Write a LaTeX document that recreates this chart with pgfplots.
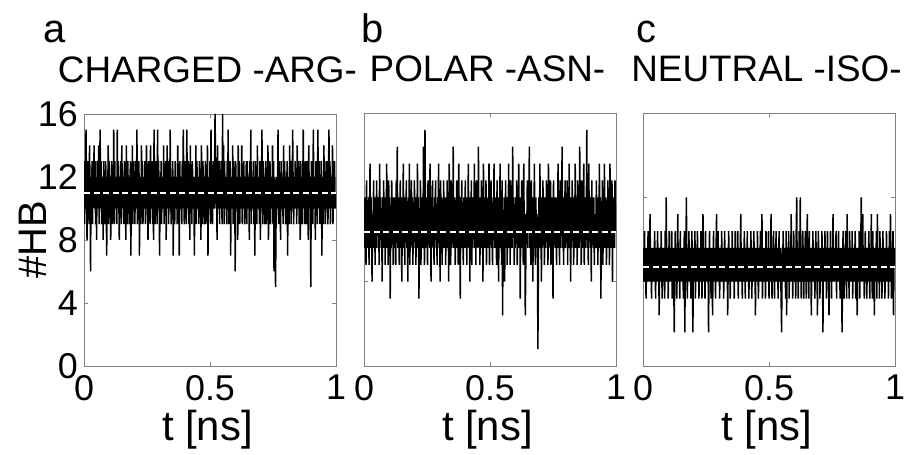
\documentclass[border=0pt]{standalone}
\usepackage{fontspec}
\setmainfont{Liberation Sans}
\usepackage{pgfplots}
\usepackage{pgfplotstable}
\pgfplotsset{compat=1.18}

% number of hydrogen bonds per frame (501 frames, 0..1 ns)
\pgfplotstableread[header=false,row sep=\\]{
13\\9\\12\\10\\15\\11\\8\\13\\10\\12\\9\\14\\11\\6\\12\\10\\13\\9\\12\\11\\
14\\10\\13\\9\\12\\8\\13\\11\\10\\14\\9\\12\\15\\10\\13\\9\\11\\12\\8\\13\\
10\\12\\9\\13\\11\\7\\12\\10\\14\\9\\13\\10\\12\\8\\11\\13\\9\\12\\10\\15\\
9\\13\\11\\10\\12\\9\\15\\10\\13\\11\\8\\12\\10\\13\\9\\14\\11\\10\\12\\9\\
13\\10\\12\\8\\14\\11\\9\\13\\10\\12\\9\\11\\13\\7\\12\\10\\14\\9\\13\\10\\
12\\9\\13\\11\\10\\15\\9\\12\\10\\13\\7\\12\\11\\9\\14\\10\\13\\9\\12\\11\\
10\\13\\9\\12\\14\\10\\11\\8\\13\\10\\12\\9\\14\\11\\10\\13\\9\\12\\8\\15\\
11\\9\\13\\10\\12\\9\\15\\10\\13\\11\\7\\12\\10\\13\\9\\12\\11\\10\\14\\9\\
12\\10\\13\\8\\11\\14\\10\\12\\9\\13\\10\\15\\11\\9\\12\\10\\13\\7\\12\\11\\
9\\13\\10\\12\\11\\9\\14\\10\\12\\7\\13\\11\\10\\12\\9\\13\\10\\15\\11\\9\\
13\\10\\12\\9\\15\\11\\10\\13\\9\\12\\8\\14\\10\\12\\9\\13\\11\\10\\12\\7\\
12\\10\\14\\9\\13\\11\\10\\12\\9\\13\\10\\12\\8\\14\\11\\9\\13\\10\\12\\9\\
11\\13\\9\\12\\10\\14\\7\\12\\11\\10\\13\\9\\15\\10\\12\\9\\13\\11\\10\\12\\
16\\13\\10\\12\\8\\14\\11\\10\\13\\9\\12\\10\\13\\11\\9\\16\\10\\14\\9\\13\\
10\\12\\11\\9\\13\\10\\15\\9\\12\\10\\13\\7\\12\\11\\10\\14\\9\\13\\10\\12\\
6\\13\\11\\10\\12\\8\\14\\10\\13\\9\\12\\11\\10\\14\\9\\12\\10\\13\\11\\9\\
12\\10\\13\\9\\13\\11\\10\\12\\8\\13\\10\\15\\9\\12\\11\\10\\13\\9\\12\\7\\
13\\10\\12\\9\\14\\11\\10\\12\\9\\13\\8\\12\\10\\15\\11\\9\\13\\10\\12\\9\\
11\\13\\9\\12\\10\\14\\8\\12\\10\\13\\9\\11\\12\\10\\14\\9\\13\\6\\12\\10\\
5\\9\\12\\10\\11\\15\\9\\13\\10\\12\\8\\13\\11\\10\\12\\9\\14\\10\\13\\11\\
9\\12\\10\\13\\7\\12\\11\\9\\14\\10\\12\\9\\13\\10\\15\\11\\9\\12\\10\\13\\
10\\12\\9\\14\\11\\10\\13\\9\\12\\8\\13\\10\\12\\9\\11\\15\\10\\12\\9\\13\\
11\\9\\13\\10\\12\\8\\14\\10\\12\\11\\5\\13\\10\\12\\9\\15\\11\\10\\12\\8\\
13\\10\\12\\9\\15\\11\\10\\13\\9\\12\\10\\13\\7\\12\\11\\9\\14\\10\\13\\9\\
12\\10\\13\\11\\9\\12\\15\\10\\13\\9\\11\\12\\10\\14\\9\\12\\10\\13\\11\\10\\
11\\
}\dataA

\pgfplotstableread[header=false,row sep=\\]{
9\\7\\10\\8\\6\\11\\7\\9\\8\\10\\6\\9\\12\\7\\10\\8\\5\\9\\7\\11\\
8\\10\\6\\9\\7\\11\\8\\10\\7\\9\\6\\12\\8\\10\\7\\9\\5\\10\\8\\11\\
7\\9\\6\\10\\8\\12\\7\\9\\6\\11\\8\\10\\4\\9\\7\\11\\8\\10\\6\\9\\
10\\7\\9\\6\\11\\8\\13\\7\\10\\8\\6\\9\\11\\7\\10\\5\\9\\8\\12\\7\\
9\\6\\10\\8\\11\\7\\9\\5\\10\\8\\12\\6\\9\\7\\11\\8\\10\\6\\9\\7\\
11\\8\\10\\6\\9\\7\\12\\8\\10\\4\\9\\7\\11\\6\\10\\8\\9\\7\\13\\8\\
6\\14\\8\\10\\7\\9\\6\\11\\8\\10\\7\\12\\9\\5\\10\\8\\11\\7\\9\\6\\
10\\8\\11\\7\\9\\6\\10\\8\\12\\7\\9\\5\\11\\8\\10\\6\\9\\7\\11\\8\\
7\\10\\6\\9\\8\\11\\7\\10\\5\\12\\8\\9\\6\\11\\7\\10\\8\\13\\7\\9\\
10\\6\\9\\8\\11\\7\\10\\6\\12\\8\\9\\4\\10\\7\\11\\8\\9\\6\\10\\7\\
8\\11\\7\\10\\6\\9\\8\\12\\7\\10\\5\\9\\8\\11\\6\\10\\7\\9\\8\\12\\
7\\9\\6\\11\\8\\10\\7\\13\\8\\9\\6\\10\\7\\11\\8\\9\\5\\12\\7\\10\\
9\\7\\11\\6\\10\\8\\9\\7\\12\\6\\10\\8\\11\\7\\9\\6\\10\\8\\12\\7\\
10\\8\\9\\6\\11\\7\\10\\5\\9\\8\\12\\7\\10\\6\\11\\3\\9\\7\\10\\5\\
8\\11\\7\\10\\6\\9\\8\\12\\7\\10\\6\\11\\8\\9\\7\\13\\8\\10\\6\\9\\
7\\10\\8\\11\\6\\9\\7\\12\\8\\10\\4\\9\\7\\11\\8\\10\\6\\12\\7\\9\\
3\\6\\9\\8\\11\\7\\10\\8\\13\\7\\9\\6\\11\\8\\10\\5\\9\\7\\12\\8\\
6\\10\\7\\9\\8\\1\\6\\10\\7\\12\\8\\9\\5\\10\\7\\11\\8\\9\\6\\10\\
9\\7\\11\\8\\10\\6\\12\\7\\9\\8\\11\\6\\10\\7\\9\\4\\11\\8\\10\\7\\
8\\10\\6\\9\\7\\12\\8\\10\\6\\11\\7\\9\\8\\13\\7\\10\\6\\9\\8\\11\\
7\\9\\8\\11\\6\\10\\7\\12\\8\\9\\5\\10\\7\\11\\8\\10\\6\\9\\7\\12\\
9\\7\\10\\6\\11\\8\\9\\7\\13\\8\\10\\6\\11\\7\\9\\8\\12\\6\\10\\7\\
10\\8\\14\\7\\9\\6\\12\\8\\10\\7\\9\\5\\11\\8\\10\\7\\10\\6\\9\\8\\
7\\11\\8\\10\\6\\9\\7\\12\\8\\10\\4\\9\\7\\11\\6\\10\\8\\12\\7\\9\\
10\\6\\9\\8\\11\\7\\10\\6\\12\\8\\9\\7\\11\\5\\10\\8\\9\\7\\11\\8\\
8\\
}\dataB

\pgfplotstableread[header=false,row sep=\\]{
7\\5\\6\\8\\5\\7\\4\\6\\7\\5\\8\\6\\5\\7\\9\\5\\6\\4\\7\\5\\
6\\7\\5\\8\\6\\4\\7\\5\\6\\8\\5\\7\\3\\6\\7\\5\\8\\6\\4\\7\\
5\\7\\6\\4\\8\\5\\10\\6\\5\\7\\4\\6\\8\\5\\7\\6\\5\\8\\4\\6\\
7\\5\\2\\6\\8\\5\\7\\4\\6\\9\\5\\7\\6\\4\\8\\5\\7\\6\\5\\7\\
4\\6\\8\\2\\7\\5\\10\\6\\4\\7\\5\\8\\6\\5\\7\\4\\6\\8\\5\\2\\
7\\5\\6\\8\\4\\7\\5\\6\\8\\5\\7\\4\\6\\7\\5\\8\\6\\4\\7\\9\\
5\\7\\6\\4\\8\\5\\7\\6\\5\\7\\2\\6\\8\\5\\7\\4\\6\\7\\3\\6\\
8\\5\\7\\6\\4\\7\\9\\5\\6\\8\\5\\7\\4\\6\\7\\5\\8\\6\\5\\7\\
4\\6\\8\\5\\7\\6\\5\\7\\3\\6\\8\\5\\7\\4\\6\\7\\5\\8\\6\\5\\
7\\4\\6\\8\\5\\7\\6\\5\\8\\4\\7\\6\\5\\7\\9\\5\\6\\4\\7\\6\\
5\\8\\6\\4\\7\\5\\6\\8\\5\\7\\4\\6\\7\\5\\8\\6\\4\\7\\5\\6\\
8\\5\\7\\3\\6\\7\\5\\8\\6\\4\\7\\5\\6\\8\\5\\7\\9\\4\\6\\7\\
5\\7\\6\\4\\8\\5\\7\\6\\5\\8\\4\\6\\7\\5\\9\\6\\4\\7\\5\\8\\
6\\4\\7\\5\\8\\6\\5\\7\\4\\6\\8\\5\\7\\6\\4\\2\\7\\5\\8\\6\\
5\\7\\6\\4\\8\\3\\7\\5\\6\\8\\4\\7\\5\\6\\9\\5\\7\\4\\6\\8\\
5\\7\\6\\4\\8\\10\\5\\7\\4\\6\\8\\5\\10\\6\\4\\7\\5\\8\\6\\4\\
7\\5\\8\\6\\4\\7\\9\\5\\6\\4\\8\\5\\7\\6\\3\\7\\5\\8\\6\\5\\
7\\4\\6\\8\\5\\7\\3\\6\\8\\5\\7\\4\\6\\7\\5\\8\\6\\2\\7\\5\\
6\\8\\5\\7\\4\\6\\8\\5\\6\\3\\7\\5\\8\\6\\4\\7\\5\\9\\6\\5\\
7\\5\\6\\8\\4\\7\\5\\6\\8\\5\\7\\4\\6\\7\\5\\2\\6\\8\\5\\4\\
7\\5\\8\\6\\4\\9\\5\\7\\6\\4\\8\\5\\7\\6\\5\\8\\4\\6\\7\\5\\
6\\8\\4\\7\\5\\3\\7\\6\\5\\8\\4\\6\\7\\10\\5\\6\\9\\5\\7\\4\\
6\\8\\5\\7\\4\\6\\7\\5\\8\\6\\4\\7\\5\\9\\6\\4\\8\\5\\7\\3\\
6\\7\\5\\8\\4\\9\\6\\5\\7\\4\\8\\6\\5\\7\\4\\6\\8\\5\\7\\6\\
4\\7\\5\\8\\6\\5\\7\\4\\6\\8\\5\\9\\6\\4\\7\\5\\8\\3\\6\\7\\
6\\
}\dataC

\pgfplotsset{
  hbpanel/.style={
    scale only axis, width=252bp, height=252bp,
    xmin=0, xmax=1, ymin=0,
    xtick={0,0.5,1}, xticklabels={0,0.5,1},
    axis line style={black!50, line width=0.6bp},
    every tick/.style={black!50, line width=0.6bp},
    major tick length=4bp,
    tick align=inside,
    /pgf/number format/assume math mode=true,
    tick label style={font=\fontsize{36}{40}\selectfont, inner sep=0pt},
    xticklabel style={yshift=-9bp},
    yticklabel style={xshift=-6bp},
    xlabel={t [ns]},
    xlabel style={font=\fontsize{42}{46}\selectfont, at={(axis description cs:0.49,-0.252)}, anchor=center},
    title style={font=\fontsize{37}{42}\selectfont, anchor=base, at={(axis description cs:0.49,1.100)}},
    clip=true,
  },
  hbdata/.style={black, line width=1.5bp, line join=bevel},
  hbmean/.style={white, line width=2bp, dash pattern=on 6bp off 3.5bp},
}

\begin{document}
\begin{tikzpicture}[x=1bp,y=1bp]
\useasboundingbox (0,0) rectangle (904,455);

\begin{axis}[hbpanel, at={(84bp,89bp)}, anchor=south west,
  ymax=16, ytick={0,4,8,12,16},
  ylabel={\#HB},
  ylabel style={font=\fontsize{40}{44}\selectfont, at={(axis description cs:-0.204,0.5)}, anchor=center},
  title={CHARGED -ARG-}]
  \addplot[hbdata] table[x expr=\coordindex/500, y index=0]{\dataA};
  \addplot[hbmean] coordinates {(0,10.98) (1,10.98)};
\end{axis}

\begin{axis}[hbpanel, at={(364bp,89bp)}, anchor=south west, height=253bp,
  ymax=15, ytick={0,5,10,15}, yticklabels={},
  title={POLAR -ASN-}]
  \addplot[hbdata] table[x expr=\coordindex/500, y index=0]{\dataB};
  \addplot[hbmean] coordinates {(0,7.95) (1,7.95)};
\end{axis}

\begin{axis}[hbpanel, at={(643bp,89bp)}, anchor=south west, height=253bp,
  ymax=15, ytick={0,5,10,15}, yticklabels={},
  title={NEUTRAL -ISO-}]
  \addplot[hbdata] table[x expr=\coordindex/500, y index=0]{\dataC};
  \addplot[hbmean] coordinates {(0,5.88) (1,5.88)};
\end{axis}

\node[anchor=base west, inner sep=0pt, font=\fontsize{40}{44}\selectfont] at (43,412) {a};
\node[anchor=base west, inner sep=0pt, font=\fontsize{40}{44}\selectfont] at (361,412) {b};
\node[anchor=base west, inner sep=0pt, font=\fontsize{40}{44}\selectfont] at (636,412) {c};
\end{tikzpicture}
\end{document}
